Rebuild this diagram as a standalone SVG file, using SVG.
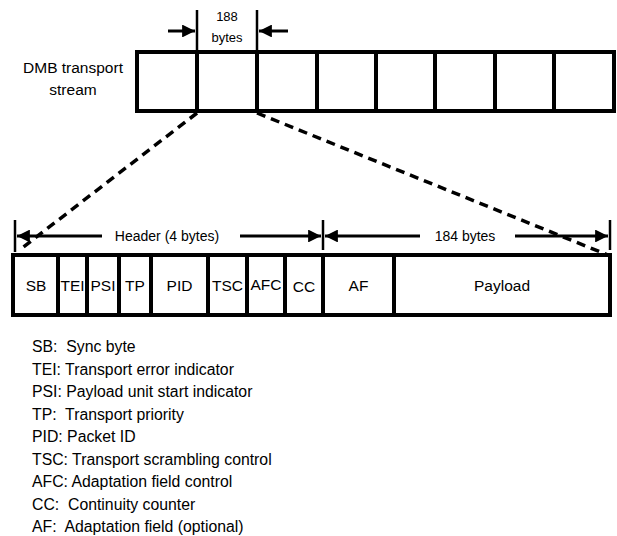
<svg xmlns="http://www.w3.org/2000/svg" width="617" height="536" viewBox="0 0 617 536">
  <style>
    .box { fill: #fff; stroke: #000; stroke-width: 4; }
    .div { stroke: #000; stroke-width: 4; }
    .tick { stroke: #000; stroke-width: 2.5; }
    .dim { stroke: #000; stroke-width: 3; fill: none; }
    .dash { stroke: #000; stroke-width: 3.5; fill: none; stroke-dasharray: 9 6; }
    text { font-family: "Liberation Sans", Arial, sans-serif; fill: #000; }
    .lbl { font-size: 14px; text-anchor: middle; }
    .cell { font-size: 15.5px; text-anchor: middle; }
    .name { font-size: 15.5px; text-anchor: middle; }
    .small { font-size: 13px; text-anchor: middle; }
    .leg { font-size: 15.8px; white-space: pre; }
  </style>
  <defs>
    <marker id="ah" viewBox="0 0 10 10" refX="10" refY="5" markerWidth="4.3" markerHeight="4.3" orient="auto">
      <path d="M0,0 L10,5 L0,10 z" fill="#000"/>
    </marker>
  </defs>

  <!-- transport stream of 188-byte packets -->
  <g id="stream">
    <text class="name" x="73" y="73">DMB transport</text>
    <text class="name" x="73" y="95">stream</text>
    <rect class="box" x="137" y="52" width="477" height="59"/>
    <line class="div" x1="197" y1="52" x2="197" y2="111"/>
    <line class="div" x1="257" y1="52" x2="257" y2="111"/>
    <line class="div" x1="317" y1="52" x2="317" y2="111"/>
    <line class="div" x1="376" y1="52" x2="376" y2="111"/>
    <line class="div" x1="435" y1="52" x2="435" y2="111"/>
    <line class="div" x1="495" y1="52" x2="495" y2="111"/>
    <line class="div" x1="554" y1="52" x2="554" y2="111"/>
  </g>

  <!-- packet size dimension -->
  <g id="packet-size">
    <line class="tick" x1="197" y1="10" x2="197" y2="50"/>
    <line class="tick" x1="257" y1="10" x2="257" y2="50"/>
    <line class="dim" x1="168" y1="31" x2="195" y2="31" marker-end="url(#ah)"/>
    <line class="dim" x1="288" y1="31" x2="259" y2="31" marker-end="url(#ah)"/>
    <text class="small" x="227" y="21">188</text>
    <text class="small" x="227" y="42">bytes</text>
  </g>

  <!-- packet layout -->
  <g id="packet">
    <rect class="box" x="13" y="255" width="597" height="60"/>
    <line class="div" x1="58" y1="255" x2="58" y2="315"/>
    <line class="div" x1="87" y1="255" x2="87" y2="315"/>
    <line class="div" x1="119" y1="255" x2="119" y2="315"/>
    <line class="div" x1="151" y1="255" x2="151" y2="315"/>
    <line class="div" x1="208" y1="255" x2="208" y2="315"/>
    <line class="div" x1="247" y1="255" x2="247" y2="315"/>
    <line class="div" x1="285" y1="255" x2="285" y2="315"/>
    <line class="div" x1="323" y1="255" x2="323" y2="315"/>
    <line class="div" x1="394" y1="255" x2="394" y2="315"/>
    <text class="cell" x="36" y="291">SB</text>
    <text class="cell" x="72.5" y="291">TEI</text>
    <text class="cell" x="103" y="291">PSI</text>
    <text class="cell" x="135" y="291">TP</text>
    <text class="cell" x="179.5" y="291">PID</text>
    <text class="cell" x="227.5" y="291">TSC</text>
    <text class="cell" x="266" y="290">AFC</text>
    <text class="cell" x="304" y="292">CC</text>
    <text class="cell" x="358.5" y="291">AF</text>
    <text class="cell" x="502" y="291">Payload</text>
  </g>

  <!-- header and payload dimensions -->
  <g id="field-sizes">
    <line class="tick" x1="15" y1="220" x2="15" y2="252"/>
    <line class="tick" x1="323" y1="220" x2="323" y2="250"/>
    <line class="tick" x1="610" y1="220" x2="610" y2="250"/>
    <line class="dim" x1="102" y1="236" x2="17" y2="236" marker-end="url(#ah)"/>
    <line class="dim" x1="240" y1="236" x2="321" y2="236" marker-end="url(#ah)"/>
    <text class="lbl" x="167" y="241">Header (4 bytes)</text>
    <line class="dim" x1="420" y1="236" x2="325" y2="236" marker-end="url(#ah)"/>
    <line class="dim" x1="515" y1="236" x2="608" y2="236" marker-end="url(#ah)"/>
    <text class="lbl" x="465" y="241">184 bytes</text>
  </g>

  <!-- expansion lines from one packet -->
  <g id="connectors">
    <line class="dash" x1="197" y1="113" x2="22" y2="248"/>
    <line class="dash" x1="257" y1="113" x2="608" y2="255"/>
  </g>

  <!-- abbreviations -->
  <g id="legend">
    <text class="leg" x="32" y="352">SB:  Sync byte</text>
    <text class="leg" x="32" y="374.5">TEI: Transport error indicator</text>
    <text class="leg" x="32" y="397">PSI: Payload unit start indicator</text>
    <text class="leg" x="32" y="419.5">TP:  Transport priority</text>
    <text class="leg" x="32" y="442">PID: Packet ID</text>
    <text class="leg" x="32" y="464.5">TSC: Transport scrambling control</text>
    <text class="leg" x="32" y="487">AFC: Adaptation field control</text>
    <text class="leg" x="32" y="509.5">CC:  Continuity counter</text>
    <text class="leg" x="32" y="532">AF:  Adaptation field (optional)</text>
  </g>
</svg>
